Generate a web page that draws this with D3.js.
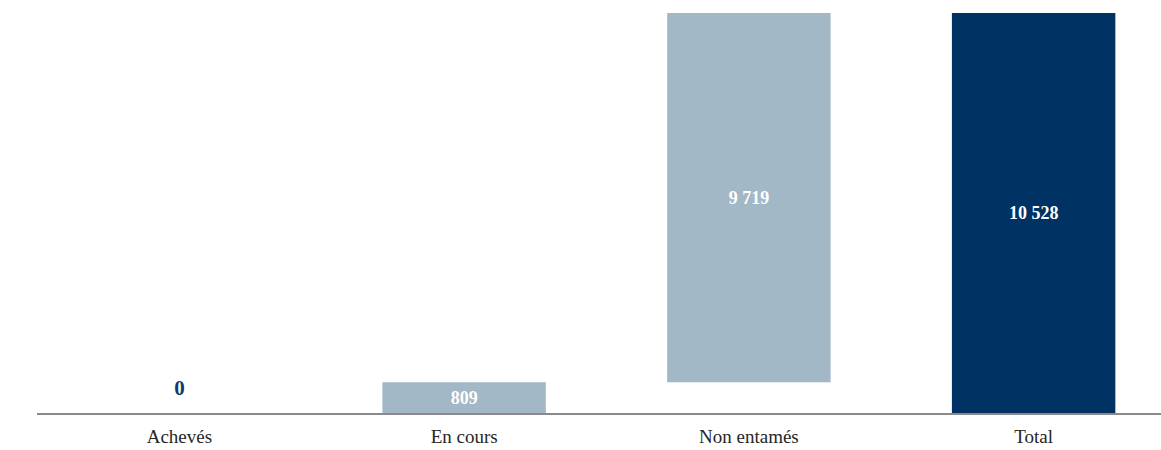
<!DOCTYPE html>
<html>
<head>
<meta charset="utf-8">
<script src="https://cdn.jsdelivr.net/npm/d3@7"></script>
<style>
  html, body { margin: 0; padding: 0; background: #fff; }
  svg { display: block; }
</style>
</head>
<body>
<svg id="chart" width="1161" height="450"></svg>
<script>
// Waterfall: completed, in progress, not started, then the total
const categories = ["Achevés", "En cours", "Non entamés", "Total"];
const values = [0, 809, 9719, 10528];
const kinds = ["step", "step", "step", "total"];
const valueLabels = ["0", "809", "9 719", "10 528"];

const svg = d3.select("#chart");
const width = 1161, height = 450;
const baseY = 413;

const x = d3.scaleBand()
  .domain(categories)
  .range([37, 37 + 4 * 284.75])
  .paddingInner(0.426)
  .paddingOuter(0.213);

const y = d3.scaleLinear()
  .domain([0, 10528])
  .range([baseY, 13]);

// cumulative start/end for each bar
let running = 0;
const bars = categories.map((c, i) => {
  let start, end;
  if (kinds[i] === "total") { start = 0; end = values[i]; }
  else { start = running; end = running + values[i]; running = end; }
  return { cat: c, start, end, value: values[i], kind: kinds[i], label: valueLabels[i] };
});

const colors = { step: "#a3b8c7", total: "#003263" };

svg.append("g").selectAll("rect")
  .data(bars.filter(d => d.value > 0))
  .join("rect")
  .attr("x", d => x(d.cat))
  .attr("width", x.bandwidth())
  .attr("y", d => y(d.end))
  .attr("height", d => y(d.start) - y(d.end))
  .attr("fill", d => colors[d.kind]);

// value labels
svg.append("g").selectAll("text")
  .data(bars)
  .join("text")
  .attr("x", d => x(d.cat) + x.bandwidth() / 2)
  .attr("y", d => d.value > 0 ? (y(d.start) + y(d.end)) / 2 : y(0) - 25)
  .attr("dy", "0.35em")
  .attr("text-anchor", "middle")
  .attr("font-family", "'Liberation Serif', 'DejaVu Serif', serif")
  .attr("font-weight", "bold")
  .attr("font-size", d => d.value > 0 ? 18 : 21)
  .attr("fill", d => d.value > 0 ? "#ffffff" : "#0d3a6b")
  .text(d => d.label);

// baseline axis
const axis = d3.axisBottom(x).tickSize(0).tickPadding(16);
const gAxis = svg.append("g")
  .attr("transform", `translate(0,${baseY + 1})`)
  .call(axis);
gAxis.select(".domain")
  .attr("d", `M37,0H${width}`)
  .attr("stroke", "#8a8a8a")
  .attr("stroke-width", 2);
gAxis.selectAll("text")
  .attr("font-family", "'Liberation Serif', 'DejaVu Serif', serif")
  .attr("font-size", 19)
  .attr("fill", "#262626");
</script>
</body>
</html>
